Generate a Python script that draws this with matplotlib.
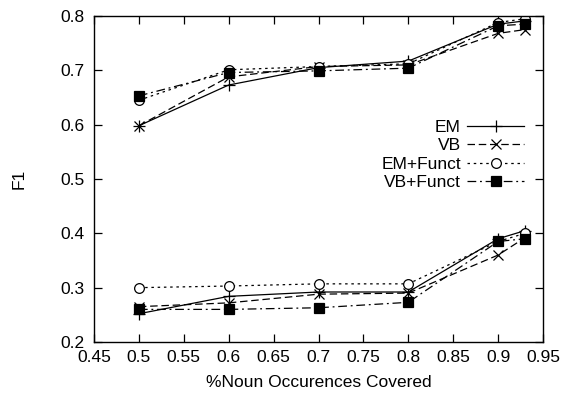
import matplotlib
matplotlib.use('Agg')
import matplotlib.pyplot as plt

plt.rcParams['font.family'] = ['Liberation Sans', 'DejaVu Sans']

x = [0.5, 0.6, 0.7, 0.8, 0.9, 0.93]

# upper group
em_hi = [0.598, 0.673, 0.705, 0.717, 0.785, 0.791]
vb_hi = [0.598, 0.688, 0.707, 0.710, 0.768, 0.775]
emf_hi = [0.645, 0.701, 0.707, 0.712, 0.788, 0.795]
vbf_hi = [0.653, 0.696, 0.699, 0.704, 0.782, 0.785]

# lower group
em_lo = [0.252, 0.284, 0.292, 0.292, 0.390, 0.405]
vb_lo = [0.265, 0.272, 0.288, 0.290, 0.360, 0.392]
emf_lo = [0.300, 0.303, 0.307, 0.307, 0.385, 0.400]
vbf_lo = [0.260, 0.260, 0.263, 0.273, 0.385, 0.390]

labels = ['EM', 'VB', 'EM+Funct', 'VB+Funct']

fs = 12.5

fig = plt.figure(figsize=(5.67, 3.96), dpi=100)
ax = fig.add_axes([0.1658, 0.1364, 0.7919, 0.8232])

styles = [
    dict(marker='+', linestyle='-', markersize=8, mfc='black'),
    dict(marker='x', linestyle=(0, (6, 3)), markersize=7, mfc='black'),
    dict(marker='o', linestyle=(0, (2, 3)), markersize=7, mfc='white'),
    dict(marker='s', linestyle=(0, (7, 3, 1.5, 3)), markersize=7, mfc='black'),
]

his = [em_hi, vb_hi, emf_hi, vbf_hi]
los = [em_lo, vb_lo, emf_lo, vbf_lo]
for lab, hi, lo, st in zip(labels, his, los, styles):
    ax.plot(x, hi, color='black', lw=0.9, mec='black', mew=0.9, label=lab, **st)
    ax.plot(x, lo, color='black', lw=0.9, mec='black', mew=0.9, **st)

ax.set_xlim(0.45, 0.95)
ax.set_ylim(0.2, 0.8)
ax.set_xticks([0.45, 0.5, 0.55, 0.6, 0.65, 0.7, 0.75, 0.8, 0.85, 0.9, 0.95])
ax.set_xticklabels(['0.45', '0.5', '0.55', '0.6', '0.65', '0.7', '0.75', '0.8', '0.85', '0.9', '0.95'])
ax.set_yticks([0.2, 0.3, 0.4, 0.5, 0.6, 0.7, 0.8])
ax.tick_params(direction='in', top=True, right=True, length=6, width=0.9, labelsize=fs)
ax.tick_params(axis='y', pad=7)
ax.tick_params(axis='x', pad=6)
for s in ax.spines.values():
    s.set_linewidth(1.0)

ax.set_xlabel('%Noun Occurences Covered', fontsize=fs, labelpad=7)
ax.set_ylabel('F1', fontsize=fs, labelpad=24)

leg = ax.legend(loc='upper right', bbox_to_anchor=(0.958, 0.681), frameon=False,
                markerfirst=False, handlelength=3.3, handletextpad=0.35,
                labelspacing=0.18, fontsize=fs, borderpad=0, borderaxespad=0)

fig.savefig('out.png', dpi=100)
